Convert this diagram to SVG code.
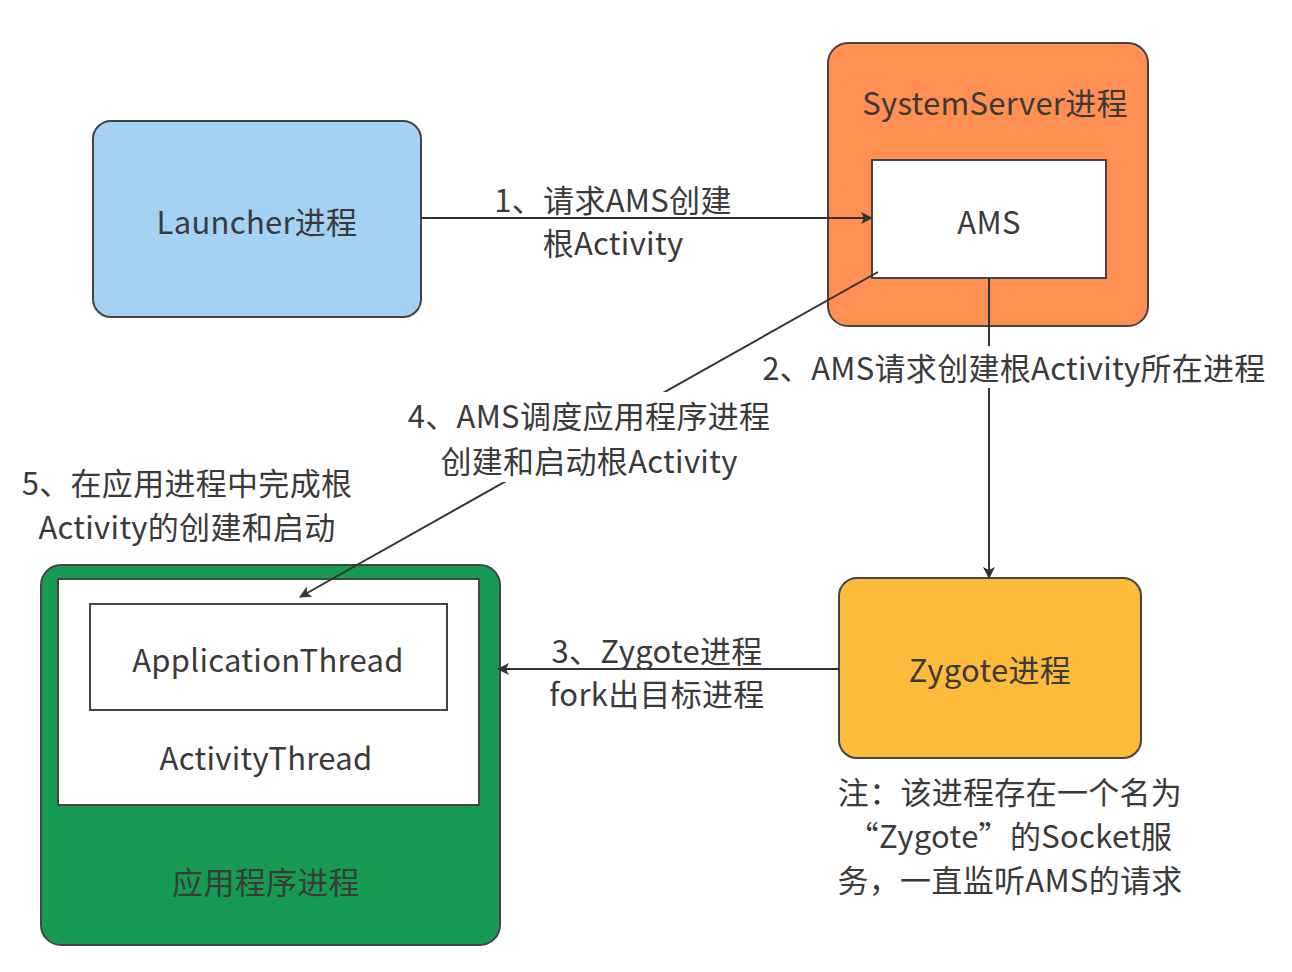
<svg xmlns="http://www.w3.org/2000/svg" width="1292" height="972" viewBox="0 0 1292 972">
<defs>
<style>
text{font-family:"Noto Sans CJK SC","Noto Sans",sans-serif;font-size:31px;fill:#3a3a3a;text-anchor:middle;dominant-baseline:central;letter-spacing:0.3px}
.box{stroke:#444;stroke-width:2}
.edge{stroke:#333;stroke-width:2;fill:none}
.bg{fill:#fff}
</style>
<marker id="arr" viewBox="0 0 12 12" refX="11" refY="6" markerWidth="12" markerHeight="12" markerUnits="userSpaceOnUse" orient="auto">
<path d="M0,0 L12,6 L0,12 L3,6 Z" fill="#333"/>
</marker>
</defs>
<rect width="1292" height="972" fill="#fff"/>
<g id="launcher">
<rect class="box" x="93" y="121" width="328" height="196" rx="18" fill="#a5d1f3"/>
<text x="257" y="220">Launcher进程</text>
</g>
<g id="systemserver">
<rect class="box" x="828" y="43" width="320" height="283" rx="20" fill="#ff8f52"/>
<text x="995" y="101">SystemServer进程</text>
</g>
<g id="ams">
<rect class="box" x="872" y="160" width="234" height="118" fill="#fff"/>
<text x="989" y="220">AMS</text>
</g>
<g id="zygote">
<rect class="box" x="839" y="578" width="302" height="180" rx="18" fill="#fdbb3c"/>
<text x="990" y="668">Zygote进程</text>
</g>
<g id="appprocess">
<rect class="box" x="41" y="565" width="459" height="380" rx="20" fill="#179a52"/>
<text x="266" y="880">应用程序进程</text>
</g>
<g id="activitythread">
<rect class="box" x="58" y="579" width="421" height="226" fill="#fff"/>
<text x="266" y="756">ActivityThread</text>
</g>
<g id="applicationthread">
<rect class="box" x="90" y="604" width="357" height="106" fill="#fff"/>
<text x="268" y="658">ApplicationThread</text>
</g>
<g id="connectors">
<line class="edge" x1="421" y1="218" x2="872" y2="218" marker-end="url(#arr)"/>
<line class="edge" x1="989" y1="278" x2="989" y2="578" marker-end="url(#arr)"/>
<line class="edge" x1="839" y1="669" x2="498" y2="669" marker-end="url(#arr)"/>
<line class="edge" x1="878" y1="272" x2="300" y2="597" marker-end="url(#arr)"/>
</g>
<g id="labels">
<text x="613" y="198">1、请求AMS创建</text>
<text x="613" y="241">根Activity</text>
<rect class="bg" x="758" y="346" width="514" height="42"/>
<text x="1014" y="366">2、AMS请求创建根Activity所在进程</text>
<text x="657" y="649">3、Zygote进程</text>
<text x="657" y="692">fork出目标进程</text>
<rect class="bg" x="400" y="392" width="378" height="90"/>
<text x="589" y="414">4、AMS调度应用程序进程</text>
<text x="589" y="459">创建和启动根Activity</text>
<text x="187" y="481">5、在应用进程中完成根</text>
<text x="187" y="525">Activity的创建和启动</text>
</g>
<g id="note">
<text x="1010" y="790">注：该进程存在一个名为</text>
<text x="1010" y="834">“Zygote”的Socket服</text>
<text x="1010" y="878">务，一直监听AMS的请求</text>
</g>
</svg>
